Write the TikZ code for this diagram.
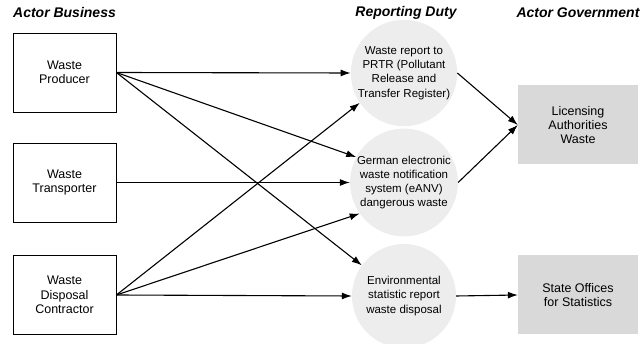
\documentclass[tikz,border=0pt]{standalone}
\usepackage{fontspec}
\setmainfont{Liberation Sans}
\usepackage{tikz}
\usetikzlibrary{positioning}
\usetikzlibrary{arrows.meta}

\definecolor{govgray}{RGB}{217,217,217}
\definecolor{dutygray}{RGB}{237,237,237}

\tikzset{
  heading/.style={font=\fontsize{14}{16}\selectfont\bfseries\itshape},
  actor/.style={draw, line width=0.8pt, minimum width=103pt, minimum height=79pt,
    align=center, font=\fontsize{12.5}{14.5}\selectfont},
  duty/.style={circle, fill=dutygray, minimum size=104pt, inner sep=0pt,
    align=center, font=\fontsize{11.5}{14.3}\selectfont},
  gov/.style={fill=govgray, minimum width=120pt, minimum height=79pt,
    align=center, font=\fontsize{12.5}{14.3}\selectfont},
  flow/.style={-{Latex[length=10pt,width=7pt]}, line width=1.1pt}
}

\begin{document}
\begin{tikzpicture}[x=1pt,y=-1pt]

  \useasboundingbox (0,0) rectangle (643,344);

  % column titles
  \node[heading] (hbusiness) at (64.5,13) {Actor Business};
  \node[heading] (hduty)     at (406,13)  {Reporting Duty};
  \node[heading] (hgov)      at (578,13)  {Actor Government};

  % business side
  \node[actor] (producer)    at (64.5,72.5)  {Waste\\Producer};
  \node[actor] (transporter) at (64.5,182.5) {Waste\\Transporter};
  \node[actor] (contractor)  at (64.5,295)   {Waste\\Disposal\\Contractor};

  % reporting duties
  \node[duty] (prtr) at (404,73)    {Waste report to\\PRTR (Pollutant\\Release and\\Transfer Register)};
  \node[duty] (eanv) at (404,182.5) {German electronic\\waste notification\\system (eANV)\\dangerous waste};
  \node[duty] (stat) at (404,296)   {Environmental\\statistic report\\waste disposal};

  % government side
  \node[gov] (licensing) at (578,125) {Licensing\\Authorities\\Waste};
  \node[gov] (stateoff)  at (578,295) {State Offices\\for Statistics};

  \draw[flow] (producer.east) -- (prtr.west);
  \draw[flow] (producer.east) -- (eanv.152);
  \draw[flow] (producer.east) -- (stat.144);
  \draw[flow] (transporter.east) -- (eanv.west);
  \draw[flow] (contractor.east) -- (prtr.214);
  \draw[flow] (contractor.east) -- (eanv.215);
  \draw[flow] (contractor.east) -- (stat.west);

  \draw[flow] (prtr.east) -- (licensing.west);
  \draw[flow] (eanv.east) -- (licensing.west);
  \draw[flow] (stat.east) -- (stateoff.west);

\end{tikzpicture}
\end{document}
